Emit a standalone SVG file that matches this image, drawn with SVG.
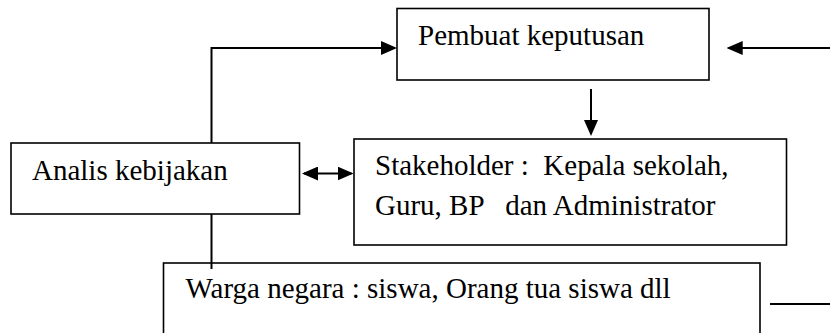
<svg xmlns="http://www.w3.org/2000/svg" width="830" height="333" viewBox="0 0 830 333">
<style>
.box{fill:#fff;stroke:#000;stroke-width:1.6}
.lbl{font-family:"Liberation Serif","Times New Roman",serif;font-size:29px;fill:#000;white-space:pre}
.con{fill:none;stroke:#000;stroke-width:2}
</style>
<defs>
<marker id="ah" viewBox="0 0 16 14" refX="14" refY="7" markerWidth="16" markerHeight="14" markerUnits="userSpaceOnUse" orient="auto-start-reverse">
<path d="M0,0 L16,7 L0,14 z" fill="#000"/>
</marker>
</defs>
<rect width="830" height="333" fill="#fff"/>
<g id="pembuat">
<rect class="box" x="397" y="8.5" width="312" height="71.5"/>
<text class="lbl" x="418" y="45">Pembuat keputusan</text>
</g>
<g id="analis">
<rect class="box" x="11" y="143" width="288.5" height="71"/>
<text class="lbl" x="32" y="180">Analis kebijakan</text>
</g>
<g id="stakeholder">
<rect class="box" x="354" y="139" width="432.5" height="106"/>
<text class="lbl" x="375" y="175" xml:space="preserve">Stakeholder :  Kepala sekolah,</text>
<text class="lbl" x="375" y="215" xml:space="preserve">Guru, BP   dan Administrator</text>
</g>
<g id="warga">
<rect class="box" x="163.5" y="263" width="596.5" height="90"/>
<text class="lbl" x="185.5" y="298">Warga negara : siswa, Orang tua siswa dll</text>
</g>
<g id="connectors">
<polyline class="con" points="211.5,143 211.5,48 395,48" marker-end="url(#ah)"/>
<line class="con" x1="830" y1="48" x2="728.7" y2="48" marker-end="url(#ah)"/>
<line class="con" x1="591" y1="89" x2="591" y2="134" marker-end="url(#ah)"/>
<line class="con" x1="304" y1="173.5" x2="351.5" y2="173.5" marker-start="url(#ah)" marker-end="url(#ah)"/>
<line class="con" x1="211.5" y1="214" x2="211.5" y2="269"/>
<line class="con" x1="770" y1="304" x2="830" y2="304"/>
</g>
</svg>
